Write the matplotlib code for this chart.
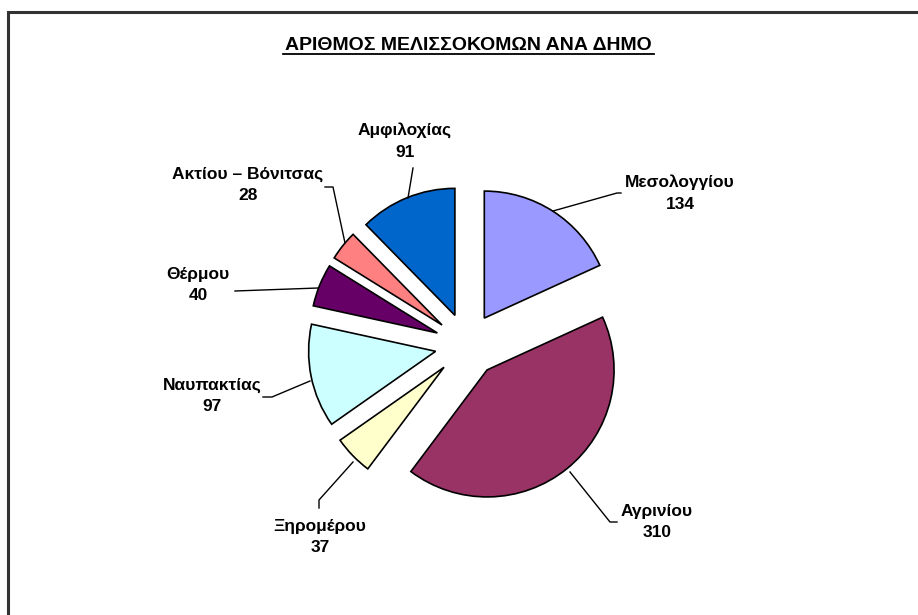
import matplotlib.pyplot as plt
from matplotlib.patches import Rectangle

# data
municipalities = ['Μεσολογγίου', 'Αγρινίου', 'Ξηρομέρου', 'Ναυπακτίας',
                  'Θέρμου', 'Ακτίου – Βόνιτσας', 'Αμφιλοχίας']
beekeepers = [134, 310, 37, 97, 40, 28, 91]
colors = ['#9999FF', '#993366', '#FFFFCC', '#CCFFFF',
          '#660066', '#FF8080', '#0066CC']

# label text centres and leader lines (pixel coords, y down)
label_pos = [(680, 193), (657, 522), (320, 537), (212, 396),
             (198, 285), (248, 185), (405, 141)]
leaders = [
    [(621, 193), (617, 193), (553, 211)],
    [(617, 522), (610, 522), (570, 472)],
    [(319, 508), (319, 500), (353, 462)],
    [(263, 397), (272, 397), (310, 381)],
    [(235, 291), (318, 288)],
    [(325, 187), (333, 187), (345, 243)],
    [(413, 168), (408, 198)],
]

W, H = 918, 615
fig = plt.figure(figsize=(W / 100, H / 100), dpi=100)
ax = fig.add_axes([0, 0, 1, 1])

plt.rcParams['font.family'] = ['Liberation Sans', 'DejaVu Sans']

ax.pie(beekeepers, colors=colors, startangle=90, counterclock=False,
       center=(467, H - 345), radius=127, explode=[32] * len(beekeepers),
       wedgeprops=dict(edgecolor='black', linewidth=1.2), frame=True)
ax.set_xlim(0, W)
ax.set_ylim(0, H)
ax.set_aspect('equal')
ax.axis('off')

for name, val, (lx, ly), pts in zip(municipalities, beekeepers, label_pos, leaders):
    ax.text(lx, H - ly, f'{name}\n{val}', ha='center', va='center',
            fontsize=12.5, fontweight='bold', linespacing=1.55)
    xs = [p[0] for p in pts]
    ys = [H - p[1] for p in pts]
    ax.plot(xs, ys, color='black', lw=1)

ax.text(468, H - 45, 'ΑΡΙΘΜΟΣ ΜΕΛΙΣΣΟΚΟΜΩΝ ΑΝΑ ΔΗΜΟ', ha='center', va='center',
        fontsize=14, fontweight='bold')
ax.plot([283, 654], [H - 54, H - 54], color='black', lw=1.3)

# outer frame (only left and top edges visible in the original)
ax.add_patch(Rectangle((8, -20), W + 20, H - 12 + 20, fill=False,
                       edgecolor='#333333', lw=2.2, clip_on=False))

fig.savefig('out.png', dpi=100)
